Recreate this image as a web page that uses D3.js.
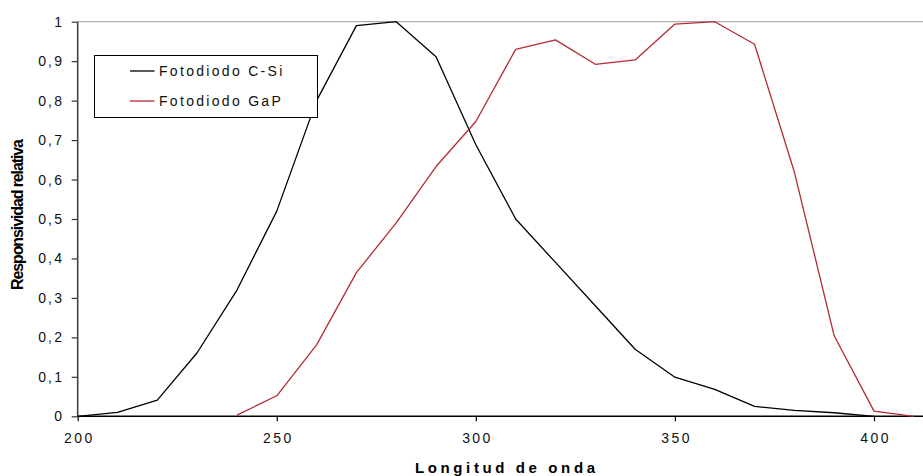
<!DOCTYPE html>
<html>
<head>
<meta charset="utf-8">
<script src="https://cdn.jsdelivr.net/npm/d3@7"></script>
<style>
  html, body { margin: 0; padding: 0; background: #fff; }
  svg { display: block; font-family: "Liberation Sans", Arial, sans-serif; }
</style>
</head>
<body>
<svg id="chart" width="923" height="476"></svg>
<script>
// Wavelength (nm) sampled every 10 nm
const wavelengthCSi = [200, 210, 220, 230, 240, 250, 260, 270, 280, 290, 300, 310, 320, 330, 340, 350, 360, 370, 380, 390, 400];
const responseCSi   = [0, 0.01, 0.041, 0.161, 0.32, 0.52, 0.80, 0.99, 1.0, 0.911, 0.688, 0.50, 0.39, 0.28, 0.17, 0.099, 0.068, 0.025, 0.015, 0.009, 0];

const wavelengthGaP = [240, 250, 260, 270, 280, 290, 300, 310, 320, 330, 340, 350, 360, 370, 380, 390, 400, 410];
const responseGaP   = [0.003, 0.052, 0.181, 0.364, 0.49, 0.633, 0.747, 0.93, 0.954, 0.892, 0.903, 0.994, 1.0, 0.943, 0.619, 0.204, 0.013, 0];

const xTicks = [200, 250, 300, 350, 400];
const yTicks = [0, 0.1, 0.2, 0.3, 0.4, 0.5, 0.6, 0.7, 0.8, 0.9, 1];

const seriesNames = ["Fotodiodo C-Si", "Fotodiodo GaP"];
const seriesColors = ["#000000", "#b42a33"];

const W = 923, H = 476;
const svg = d3.select("#chart");

const x = d3.scaleLinear().domain([200, 400]).range([77.7, 874]);
const y = d3.scaleLinear().domain([0, 1]).range([416.3, 21.7]);

const fmt = d => d === 0 ? "0" : d === 1 ? "1" : d.toFixed(1).replace(".", ",");

// top gridline at 1
svg.append("line")
  .attr("x1", x(200)).attr("x2", W)
  .attr("y1", y(1)).attr("y2", y(1))
  .attr("stroke", "#9a9a9a").attr("stroke-width", 1);

// y axis
const gy = svg.append("g")
  .attr("transform", `translate(${x(200)},0)`)
  .call(d3.axisLeft(y).tickValues(yTicks).tickFormat(fmt).tickSize(6).tickPadding(7.5).tickSizeOuter(0));
gy.select(".domain").remove();
gy.selectAll(".tick line").attr("stroke", "#333").attr("stroke-width", 1.2);
gy.selectAll(".tick text")
  .attr("fill", "#111").style("font-size", "14px").style("letter-spacing", "2.2px")
  .style("font-family", "'Liberation Sans', Arial, sans-serif");
svg.append("line")
  .attr("x1", x(200)).attr("x2", x(200))
  .attr("y1", y(1)).attr("y2", y(0))
  .attr("stroke", "#444").attr("stroke-width", 1.6);

// x axis
const gx = svg.append("g")
  .attr("transform", `translate(0,${y(0)})`)
  .call(d3.axisBottom(x).tickValues(xTicks).tickFormat(d3.format("d")).tickSize(5).tickPadding(12).tickSizeOuter(0));
gx.select(".domain").remove();
gx.selectAll(".tick line").attr("stroke", "#000").attr("stroke-width", 1.2);
gx.selectAll(".tick text")
  .attr("fill", "#111").attr("dx", "1.1px").style("font-size", "14px").style("letter-spacing", "2.4px")
  .style("font-family", "'Liberation Sans', Arial, sans-serif");
svg.append("line")
  .attr("x1", x(200)).attr("x2", W)
  .attr("y1", y(0)).attr("y2", y(0))
  .attr("stroke", "#000").attr("stroke-width", 1.6);

// series lines
const line = d3.line().x(d => x(d[0])).y(d => y(d[1]));
const series = [
  d3.zip(wavelengthCSi, responseCSi),
  d3.zip(wavelengthGaP, responseGaP)
];
series.forEach((pts, i) => {
  svg.append("path")
    .datum(pts)
    .attr("d", line)
    .attr("fill", "none")
    .attr("stroke", seriesColors[i])
    .attr("stroke-width", 1.3)
    .attr("stroke-linejoin", "round");
});

// legend
const lg = svg.append("g");
lg.append("rect")
  .attr("x", 94.5).attr("y", 55.5).attr("width", 223).attr("height", 62)
  .attr("fill", "#fff").attr("stroke", "#000").attr("stroke-width", 1);
seriesNames.forEach((name, i) => {
  const cy = 71 + i * 30;
  lg.append("line")
    .attr("x1", 130).attr("x2", 154.5).attr("y1", cy).attr("y2", cy)
    .attr("stroke", seriesColors[i]).attr("stroke-width", 1.3);
  lg.append("text")
    .attr("x", 159).attr("y", cy + 5)
    .attr("fill", "#111")
    .style("font-size", "14px").style("letter-spacing", "2.3px")
    .text(name);
});

// axis titles
svg.append("text")
  .attr("x", 415).attr("y", 472.5)
  .attr("textLength", 180).attr("lengthAdjust", "spacing")
  .attr("fill", "#000")
  .style("font-size", "15px").style("font-weight", "bold")
  .text("Longitud de onda");

svg.append("text")
  .attr("transform", "translate(23,290) rotate(-90)")
  .attr("textLength", 151).attr("lengthAdjust", "spacing")
  .attr("fill", "#000")
  .style("font-size", "16px").style("font-weight", "bold")
  .text("Responsividad relativa");
</script>
</body>
</html>
